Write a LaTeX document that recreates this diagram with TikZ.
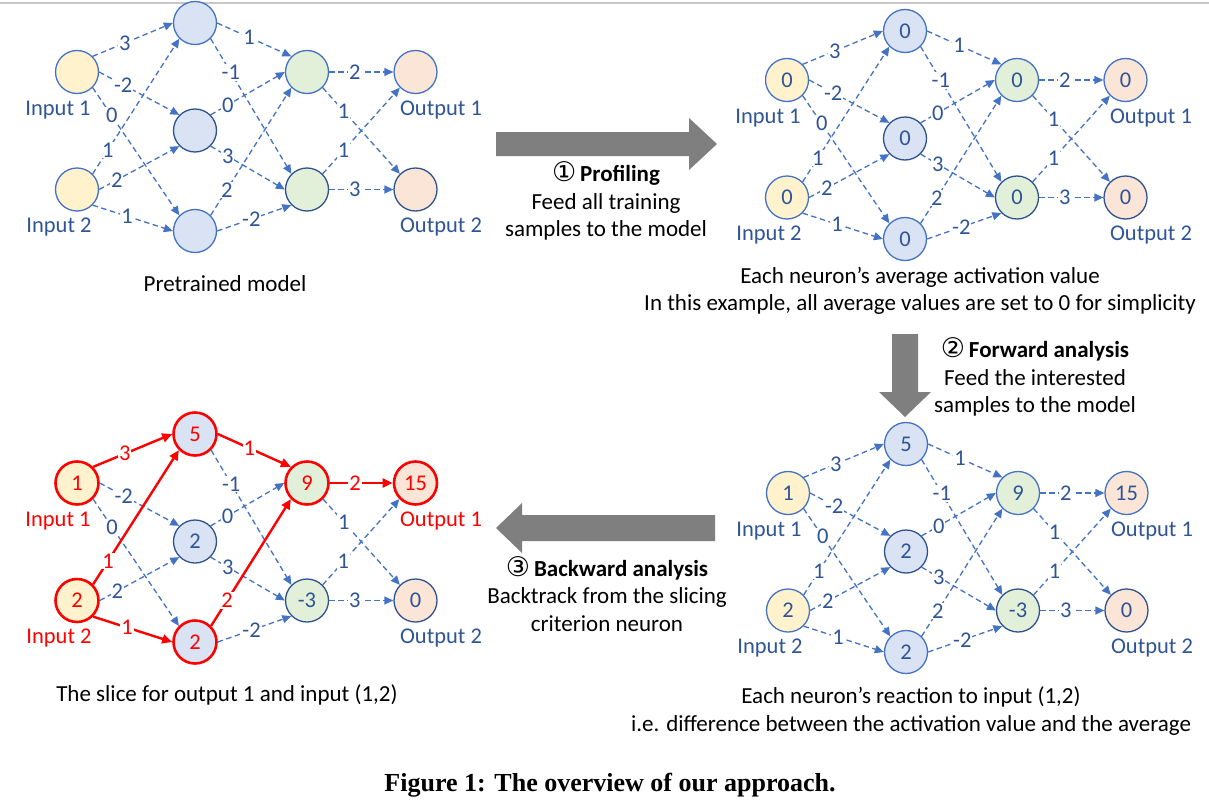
\documentclass[tikz,border=0pt]{standalone}
\usepackage{fontspec}
\setmainfont{Carlito}
\newfontfamily\dejavu{DejaVu Sans}
\newfontfamily\capfont{Liberation Serif}
\usetikzlibrary{arrows.meta}
\definecolor{ablue}{HTML}{4472C4}
\definecolor{dblue}{HTML}{2F528F}
\definecolor{lblue}{HTML}{2F5597}
\definecolor{yelfill}{HTML}{FFF2CC}
\definecolor{bluefill}{HTML}{DAE3F3}
\definecolor{grnfill}{HTML}{E2F0D9}
\definecolor{orfill}{HTML}{FBE5D6}
\definecolor{garrow}{HTML}{7F7F7F}
\definecolor{myred}{HTML}{FF0000}
\newcommand\netfont{\fontsize{22.5}{27}\selectfont}
\newcommand\bodyfont{\fontsize{23}{27.5}\selectfont}
\newcommand\circfont{\dejavu\fontsize{27}{27.5}\selectfont}
\tikzset{
  neuron/.style={circle, minimum size=43pt, inner sep=0pt, line width=1.3pt, draw=ablue, text=lblue, font=\netfont},
  inp/.style={fill=yelfill},
  hid/.style={fill=bluefill},
  grn/.style={fill=grnfill},
  outn/.style={fill=orfill},
  dark/.style={draw=dblue},
  redn/.style={draw=myred, line width=2.6pt, text=myred},
  nlab/.style={font=\netfont, text=lblue, inner sep=0pt},
  redlab/.style={text=myred},
  dashedge/.style={draw=ablue, line width=1.3pt, dash pattern=on 5.5pt off 3.5pt, -{Triangle[length=9pt,width=8pt]}, text=lblue},
  rededge/.style={draw=myred, line width=2.4pt, solid, -{Triangle[length=10pt,width=9pt]}, text=myred},
  elab/.style={fill=white, inner sep=1pt, font=\netfont},
  eA/.style={dashedge}, eB/.style={dashedge}, eC/.style={dashedge}, eD/.style={dashedge},
  eE/.style={dashedge}, eF/.style={dashedge}, eG/.style={dashedge}, eH/.style={dashedge},
  eI/.style={dashedge}, eJ/.style={dashedge}, eK/.style={dashedge}, eL/.style={dashedge},
  eM/.style={dashedge}, eN/.style={dashedge}, eO/.style={dashedge}, eP/.style={dashedge},
  nIa/.style={}, nIb/.style={}, nHa/.style={}, nHb/.style={}, nHc/.style={},
  nGa/.style={}, nGb/.style={}, nOa/.style={}, nOb/.style={},
  lIa/.style={}, lIb/.style={}, lOa/.style={}, lOb/.style={},
  body/.style={font=\bodyfont, text=black, align=center, inner sep=0pt},
}
\newcommand\net[2]{%
\begin{scope}[shift={#2}]
  \node[neuron,inp,nIa] (#1i1) at (0,0) {\vIa};
  \node[neuron,inp,nIb] (#1i2) at (0,117.5) {\vIb};
  \node[neuron,hid,nHa] (#1h1) at (118,-49) {\vHa};
  \node[neuron,hid,dark,nHb] (#1h2) at (118,58.5) {\vHb};
  \node[neuron,hid,nHc] (#1h3) at (118,159) {\vHc};
  \node[neuron,grn,nGa] (#1g1) at (230,0) {\vGa};
  \node[neuron,grn,dark,nGb] (#1g2) at (230,117.5) {\vGb};
  \node[neuron,outn,nOa] (#1o1) at (338.5,0) {\vOa};
  \node[neuron,outn,dark,nOb] (#1o2) at (338.5,117.5) {\vOb};
  \node[nlab,lIa] (#1li1) at (-19,38) {Input 1};
  \node[nlab,lIb] (#1li2) at (-18,155) {Input 2};
  \node[nlab,lOa] (#1lo1) at (364,38) {Output 1};
  \node[nlab,lOb] (#1lo2) at (364,155) {Output 2};
  \draw[eA] (#1i1.north east) -- node[elab,pos=.40] {3} (#1h1.west);
  \draw[eB] (#1i1.east) -- node[elab,pos=.30] {-2} (#1h2.north west);
  \draw[eC] (#1i1.south east) -- node[elab,pos=.22] {0} (#1h3.north west);
  \draw[eD] (#1i2.north east) -- node[elab,pos=.175] {1} (#1h1.south west);
  \draw[eE] (#1i2.east) -- node[elab,pos=.22] {2} (#1h2.south west);
  \draw[eF] (#1i2.south east) -- node[elab,pos=.43] {1} (#1h3.west);
  \draw[eG] (#1h1.east) -- node[elab,pos=.43] {1} (#1g1.north west);
  \draw[eH] (#1h1.south east) -- node[elab,pos=.25] {-1} (#1g2.north west);
  \draw[eI] (#1h2.north east) -- node[elab,pos=.23] {0} (#1g1.west);
  \draw[eJ] (#1h2.south east) -- node[elab,pos=.23] {3} (#1g2.west);
  \draw[eK] (#1h3.north east) -- node[elab,pos=.2] {2} (#1g1.south west);
  \draw[eL] (#1h3.east) -- node[elab,pos=.46] {-2} (#1g2.south west);
  \draw[eM] (#1g1.east) -- node[elab,pos=.4] {2} (#1o1.west);
  \draw[eN] (#1g1.south east) -- node[elab,pos=.27] {1} (#1o2.north west);
  \draw[eO] (#1g2.north east) -- node[elab,pos=.27] {1} (#1o1.south west);
  \draw[eP] (#1g2.east) -- node[elab,pos=.4] {3} (#1o2.west);
\end{scope}}
\begin{document}
\begin{tikzpicture}[x=1pt,y=-1pt]
\useasboundingbox (0,0) rectangle (1209,808);
\fill[white] (0,0) rectangle (1209,808);
\draw[black!22, line width=1.5pt] (0,3) -- (1209,3);

% top-left: pretrained model
\def\vIa{}\def\vIb{}\def\vHa{}\def\vHb{}\def\vHc{}\def\vGa{}\def\vGb{}\def\vOa{}\def\vOb{}
\net{a}{(77,72)}
% top-right: averages
\def\vIa{0}\def\vIb{0}\def\vHa{0}\def\vHb{0}\def\vHc{0}\def\vGa{0}\def\vGb{0}\def\vOa{0}\def\vOb{0}
\net{b}{(787,80)}
% bottom-right: reactions
\def\vIa{1}\def\vIb{2}\def\vHa{5}\def\vHb{2}\def\vHc{2}\def\vGa{9}\def\vGb{-3}\def\vOa{15}\def\vOb{0}
\net{c}{(788,493)}
% bottom-left: slice
\begin{scope}[eA/.style={rededge}, eD/.style={rededge}, eF/.style={rededge},
  eG/.style={rededge}, eK/.style={rededge}, eM/.style={rededge},
  nIa/.style={redn}, nIb/.style={redn}, nHa/.style={redn}, nHc/.style={redn},
  nGa/.style={redn}, nOa/.style={redn},
  lIa/.style={redlab}, lIb/.style={redlab}, lOa/.style={redlab}]
\net{d}{(77,483)}
\end{scope}

% gray process arrows
\fill[garrow] (496,132) -- (689,132) -- (689,118) -- (717,144) -- (689,170) -- (689,156) -- (496,156) -- cycle;
\fill[garrow] (892,334) -- (918,334) -- (918,392) -- (931,392) -- (905,417) -- (879,392) -- (892,392) -- cycle;
\fill[garrow] (715,515) -- (522,515) -- (522,503) -- (496,528) -- (522,553) -- (522,541) -- (715,541) -- cycle;

% texts
\node[body] (t1) at (606,201) {{\circfont ①}\,\textbf{Profiling}\\Feed all training\\samples to the model};
\node[body] (t2) at (1035,377) {{\circfont ②}\,\textbf{Forward analysis}\\Feed the interested\\samples to the model};
\node[body] (t3) at (607,594) {{\circfont ③}\,\textbf{Backward analysis}\\Backtrack from the slicing\\criterion neuron};
\node[body] (c1) at (225,284) {Pretrained model};
\node[body] (c2) at (920,291) {Each neuron’s average activation value\\In this example, all average values are set to 0 for simplicity};
\node[body] (c3) at (227,695) {The slice for output 1 and input (1,2)};
\node[body] (c4) at (911,711) {Each neuron’s reaction to input (1,2)\\i.e. difference between the activation value and the average};
\node[font=\capfont\bfseries\fontsize{26}{30}\selectfont, inner sep=0pt] (cap) at (610,785) {Figure 1: The overview of our approach.};
\end{tikzpicture}
\end{document}
